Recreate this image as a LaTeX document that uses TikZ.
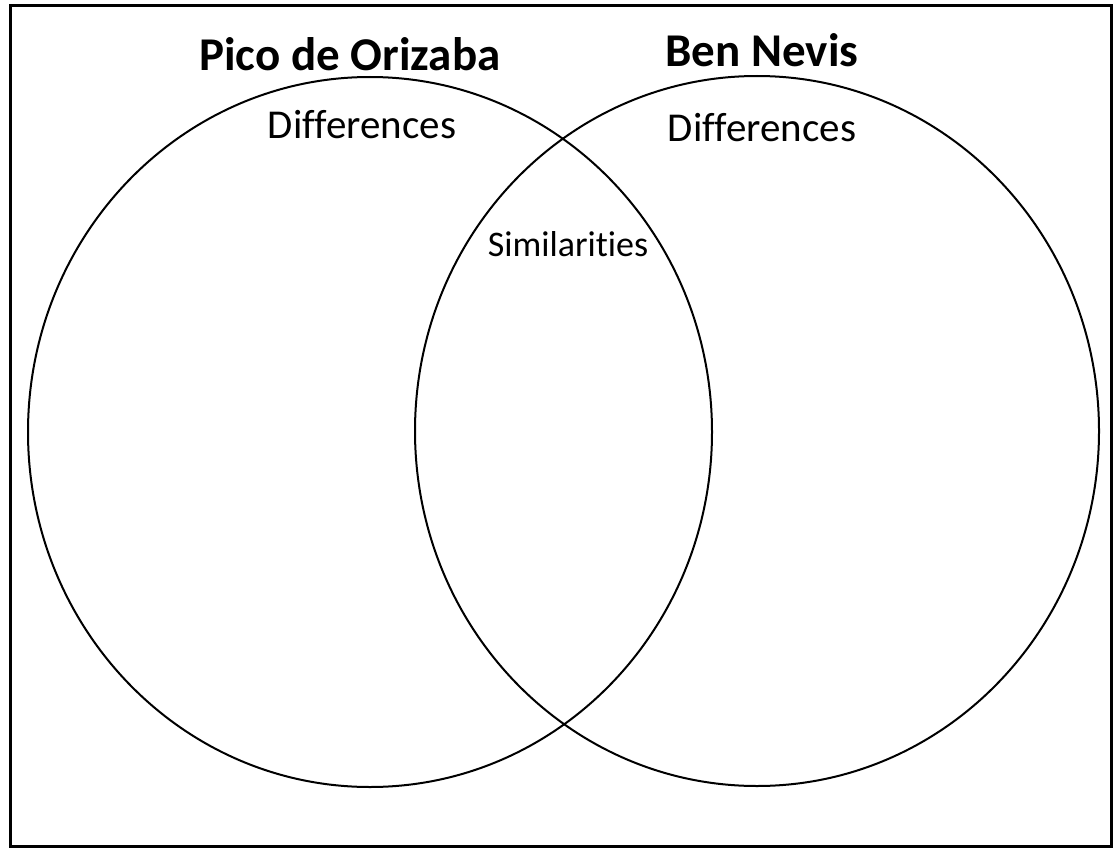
\documentclass[tikz,border=0pt]{standalone}
\usepackage{fontspec}
\setmainfont{Carlito}[Ligatures=NoCommon]
\usetikzlibrary{shapes,positioning}
\tikzstyle{ring}=[ellipse,draw=black,line width=2pt,inner sep=0pt,minimum width=684pt,minimum height=710pt]
\tikzstyle{titel}=[inner sep=0pt,font=\bfseries\fontsize{47}{56}\selectfont]
\tikzstyle{diff}=[inner sep=0pt,font=\fontsize{41}{49}\selectfont]
\tikzstyle{sim}=[inner sep=0pt,font=\fontsize{36}{43}\selectfont]

\begin{document}
\begin{tikzpicture}[x=1pt,y=-1pt]

    % Rahmen
    \useasboundingbox (0,0) rectangle (1113,848);
    \draw[line width=3pt] (10,6) rectangle (1111,846);

    % Kreise
    \node[ring] (pico) at (370,432) {};
    \node[ring] (ben) at (757,431) {};

    % Beschriftung
    \node[titel] (picoT) at (350,54) {Pico de Orizaba};
    \node[titel] (benT) at (762,50) {Ben Nevis};
    \node[diff] (picoD) at (362,125) {Differences};
    \node[diff] (benD) at (762,128) {Differences};
    \node[sim] (sim) at (568,244) {Similarities};

\end{tikzpicture}
\end{document}
